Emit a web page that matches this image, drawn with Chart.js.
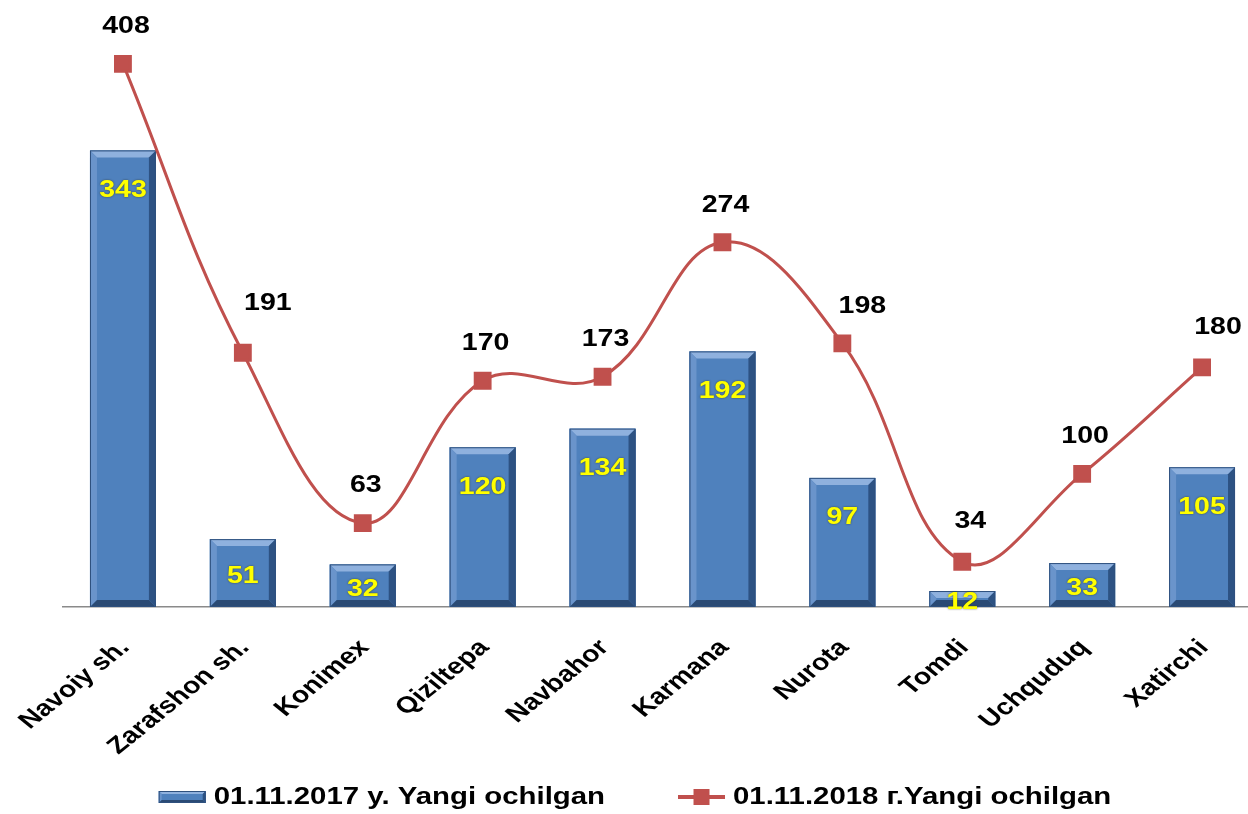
<!DOCTYPE html>
<html lang="en">
<head>
<meta charset="UTF-8">
<title>Yangi ochilgan</title>
<script src="https://cdn.jsdelivr.net/npm/chart.js"></script>
<style>
  html, body { margin: 0; padding: 0; background: #fff; overflow: hidden; }
  canvas { display: block; }
</style>
</head>
<body>
<canvas id="chart" width="1262" height="814"></canvas>
<script>
const districts = ['Navoiy sh.', 'Zarafshon sh.', 'Konimex', 'Qiziltepa', 'Navbahor',
                   'Karmana', 'Nurota', 'Tomdi', 'Uchquduq', 'Xatirchi'];
const opened2017 = [343, 51, 32, 120, 134, 192, 97, 12, 33, 105];
const opened2018 = [408, 191, 63, 170, 173, 274, 198, 34, 100, 180];
const seriesNames = ['01.11.2017 y. Yangi ochilgan', '01.11.2018 г.Yangi ochilgan'];

const BLUE = '#4f81bd';
const RED = '#c0504d';
const FONT = '"Liberation Sans", Arial, sans-serif';
const STRETCH = 1.24; // the original picture is a bit wider than tall

// a few of the line labels were dragged by hand in the original
const lineLabelShift = { 1: [22, -12], 6: [17, 0], 7: [5, -3], 9: [13, -3] };

// excel-ish soft bevel on a rectangle
function bevelRect(ctx, l, t, r, b, bev) {
  bev = Math.min(bev, (b - t) / 2, (r - l) / 2);
  ctx.save();
  ctx.fillStyle = BLUE;
  ctx.fillRect(l, t, r - l, b - t);
  const poly = (pts, color) => {
    ctx.beginPath();
    ctx.moveTo(pts[0][0], pts[0][1]);
    for (let i = 1; i < pts.length; i++) ctx.lineTo(pts[i][0], pts[i][1]);
    ctx.closePath();
    ctx.fillStyle = color;
    ctx.fill();
  };
  poly([[l, t], [r, t], [r - bev, t + bev], [l + bev, t + bev]], '#8fb1de');
  poly([[l, t], [l + bev, t + bev], [l + bev, b - bev], [l, b]], '#6a94cb');
  poly([[r, t], [r - bev, t + bev], [r - bev, b - bev], [r, b]], '#2d5283');
  poly([[l, b], [l + bev, b - bev], [r - bev, b - bev], [r, b]], '#2a4a74');
  ctx.strokeStyle = '#2e507e';
  ctx.lineWidth = 1;
  ctx.strokeRect(l + 0.5, t + 0.5, r - l - 1, b - t - 1);
  ctx.restore();
}

// text stretched horizontally like the source image
function wideText(ctx, text, x, y, align, rot) {
  ctx.save();
  ctx.translate(x, y);
  ctx.scale(STRETCH, 1);
  if (rot) ctx.rotate(rot);
  ctx.textAlign = align;
  ctx.fillText(text, 0, 0);
  ctx.restore();
}

const bevelPlugin = {
  id: 'bevelBars',
  afterDatasetDraw(chart, args) {
    if (args.index !== 0) return;
    const ctx = chart.ctx;
    args.meta.data.forEach(el => {
      const p = el.getProps(['x', 'y', 'base', 'width'], true);
      bevelRect(ctx, p.x - p.width / 2, p.y, p.x + p.width / 2, p.base, 7);
    });
  }
};

const valueLabels = {
  id: 'valueLabels',
  afterDatasetsDraw(chart) {
    const ctx = chart.ctx;
    ctx.save();
    ctx.textBaseline = 'middle';
    ctx.font = 'bold 23px ' + FONT;
    chart.getDatasetMeta(0).data.forEach((el, i) => {
      const p = el.getProps(['x', 'y', 'base'], true);
      const y = Math.min(p.y + 40, (p.y + p.base) / 2 + 4);
      ctx.shadowColor = 'rgba(40,40,0,0.7)';
      ctx.shadowBlur = 2;
      ctx.fillStyle = '#ffff00';
      wideText(ctx, opened2017[i], p.x, y, 'center');
    });
    ctx.shadowColor = 'transparent';
    ctx.fillStyle = '#000';
    chart.getDatasetMeta(1).data.forEach((el, i) => {
      const p = el.getProps(['x', 'y'], true);
      const s = lineLabelShift[i] || [0, 0];
      wideText(ctx, opened2018[i], p.x + 3 + s[0], p.y - 37 + s[1], 'center');
    });

    // category labels, rotated 45 degrees
    const xs = chart.scales.x;
    districts.forEach((name, i) => {
      wideText(ctx, name, xs.getPixelForTick(i) + 2, xs.top + 37, 'right', -Math.PI / 4);
    });
    ctx.restore();
  }
};

// legend drawn by hand so the spacing can match the original
const legendPlugin = {
  id: 'handLegend',
  afterDraw(chart) {
    const ctx = chart.ctx;
    ctx.save();
    ctx.font = 'bold 23.7px ' + FONT;
    ctx.textBaseline = 'middle';
    ctx.fillStyle = '#000';
    const sw = 47, gap = 8, between = 73;
    const w1 = ctx.measureText(seriesNames[0]).width * STRETCH;
    const w2 = ctx.measureText(seriesNames[1]).width * STRETCH;
    const total = sw + gap + w1 + between + sw + gap + w2;
    let x = 635 - total / 2;
    const y = 797;
    bevelRect(ctx, x, y - 6, x + sw, y + 6, 3);
    x += sw + gap;
    wideText(ctx, seriesNames[0], x, y, 'left');
    x += w1 + between;
    ctx.strokeStyle = RED;
    ctx.lineWidth = 4;
    ctx.beginPath();
    ctx.moveTo(x, y);
    ctx.lineTo(x + sw, y);
    ctx.stroke();
    ctx.fillStyle = RED;
    ctx.fillRect(x + sw / 2 - 8, y - 8, 16, 16);
    x += sw + gap;
    ctx.fillStyle = '#000';
    wideText(ctx, seriesNames[1], x, y, 'left');
    ctx.restore();
  }
};

new Chart(document.getElementById('chart'), {
  data: {
    labels: districts,
    datasets: [
      {
        type: 'bar',
        label: seriesNames[0],
        data: opened2017,
        backgroundColor: BLUE,
        barPercentage: 0.55,
        categoryPercentage: 1,
        order: 2
      },
      {
        type: 'line',
        label: seriesNames[1],
        data: opened2018,
        borderColor: RED,
        backgroundColor: RED,
        borderWidth: 3,
        tension: 0.4,
        pointStyle: 'rect',
        pointRadius: 10.5,
        pointBackgroundColor: RED,
        pointBorderColor: RED,
        order: 1
      }
    ]
  },
  options: {
    responsive: false,
    animation: false,
    layout: { autoPadding: false, padding: { top: 8, left: 63, right: 0, bottom: 60 } },
    scales: {
      x: {
        grid: { display: false },
        border: { display: true, color: '#8a8a8a', width: 1.5 },
        ticks: { display: false },
        afterFit(scale) { scale.height = 147; }
      },
      y: {
        display: false,
        min: 0,
        max: 450
      }
    },
    plugins: {
      legend: { display: false },
      tooltip: { enabled: false }
    }
  },
  plugins: [bevelPlugin, valueLabels, legendPlugin]
});
</script>
</body>
</html>
